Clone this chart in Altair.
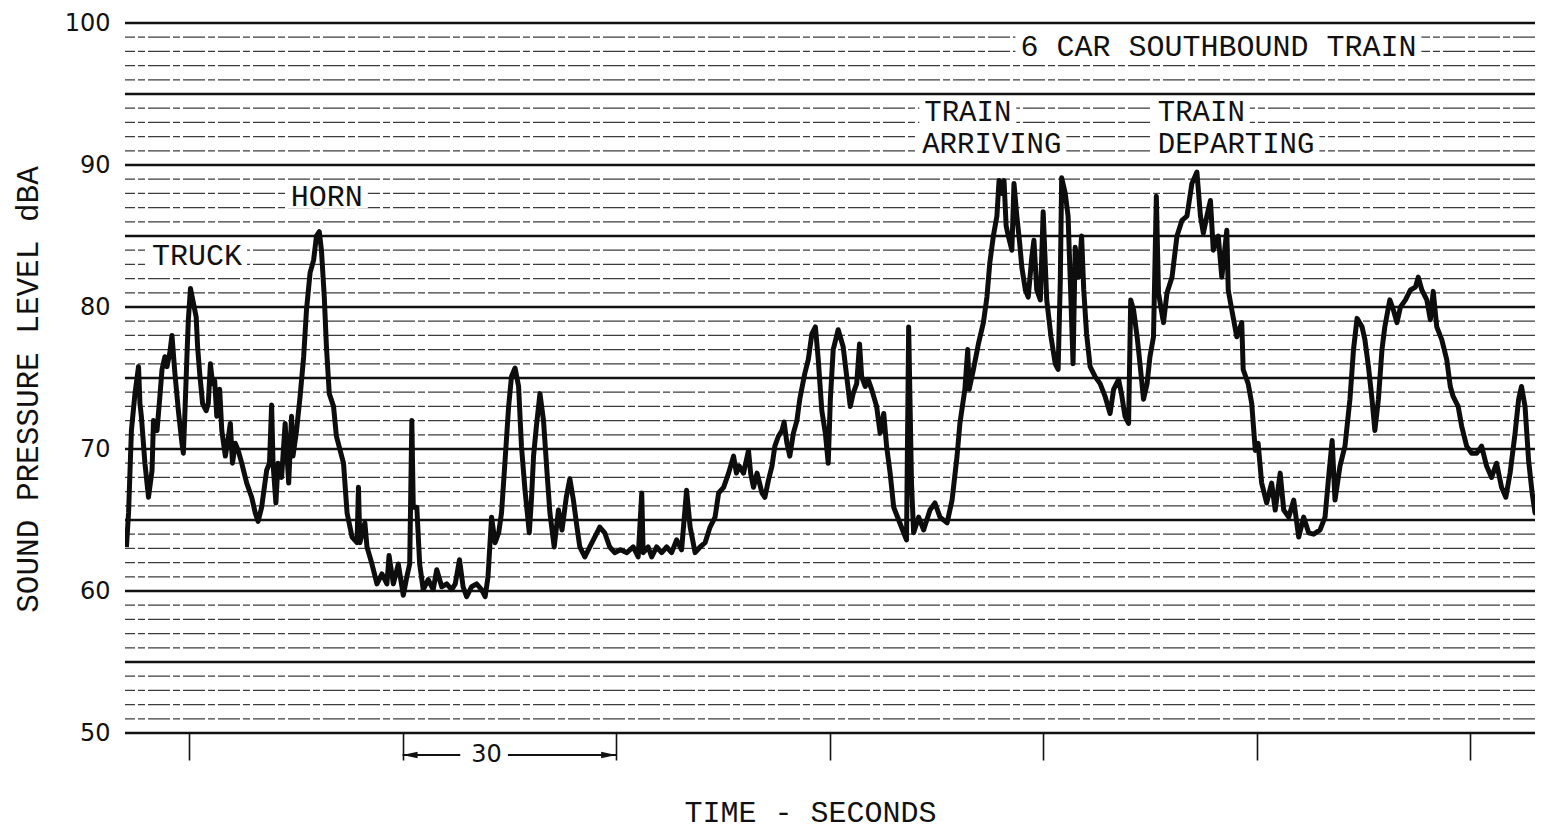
import altair as alt
import pandas as pd

# ---- trace: (time in seconds, sound pressure level in dBA) ----
seg_truck_horn = [
    (21.2, 63.1), (21.5, 65.5), (21.9, 71.3), (22.4, 73.9), (22.9, 75.8), (23.1, 73.2), (23.3, 72.3),
    (23.8, 69.0), (24.3, 66.6), (24.8, 68.5), (25.0, 72.0), (25.5, 71.3), (25.9, 73.7), (26.2, 75.6),
    (26.6, 76.5), (26.9, 75.8), (27.3, 76.8), (27.6, 78.0), (28.0, 75.4), (28.5, 72.7), (29.0, 70.4),
    (29.2, 69.7), (29.4, 72.3), (29.7, 76.5), (29.9, 79.1), (30.2, 81.3), (30.6, 80.3), (31.0, 79.3),
    (31.2, 77.2), (31.5, 75.3), (31.9, 73.2), (32.4, 72.7), (32.7, 73.2), (33.0, 76.0), (33.3, 74.6),
    (33.6, 74.8), (33.9, 72.3), (34.3, 74.2), (34.6, 71.3), (35.1, 69.5), (35.4, 70.4), (35.8, 71.8),
    (36.1, 69.0), (36.5, 70.4), (36.9, 69.9), (37.4, 69.0), (38.1, 67.6), (38.8, 66.6), (39.3, 65.5),
    (39.7, 64.9), (40.2, 65.9), (40.9, 68.5), (41.3, 69.0), (41.6, 73.1), (41.8, 69.0), (42.2, 66.2),
    (42.5, 69.0), (43.0, 68.0), (43.5, 71.8), (44.0, 67.6), (44.4, 72.3), (44.6, 69.5), (45.1, 71.3),
    (45.6, 73.7), (46.1, 76.5), (46.5, 79.8), (47.0, 82.4), (47.5, 83.3), (47.9, 85.0), (48.3, 85.3),
    (48.6, 84.0), (49.0, 80.7), (49.3, 77.2), (49.7, 73.9), (50.3, 73.0), (50.7, 70.9), (51.7, 69.0),
    (52.2, 65.5), (52.9, 63.8),
]
seg_quiet = [
    (53.6, 63.4), (53.8, 67.3), (54.0, 63.4), (54.7, 64.8), (55.0, 63.1), (55.7, 61.9), (56.4, 60.5),
    (57.1, 61.2), (57.8, 60.5), (58.1, 62.5), (58.7, 60.5), (59.4, 61.9), (60.1, 59.7), (60.6, 61.0),
    (61.0, 61.9), (61.3, 72.0), (61.5, 65.9), (62.0, 65.9), (62.4, 61.9), (62.9, 60.1), (63.6, 60.8),
    (64.3, 60.1), (64.8, 61.5), (65.5, 60.3), (66.2, 60.5), (66.9, 60.1), (67.4, 60.5), (68.0, 62.2),
    (68.5, 60.3), (69.0, 59.6), (69.7, 60.3), (70.4, 60.5), (71.1, 60.1), (71.6, 59.6), (72.0, 61.0),
    (72.5, 65.2), (73.0, 63.4), (73.5, 64.1), (73.9, 65.5), (74.4, 69.2), (74.9, 73.0), (75.3, 75.1),
    (75.8, 75.7), (76.3, 74.4), (76.7, 70.2), (77.2, 67.1), (77.8, 64.1), (78.1, 66.4), (78.4, 69.5),
    (78.8, 71.6), (79.3, 73.9), (79.8, 72.0), (80.3, 68.3), (80.7, 65.5), (81.3, 63.1), (81.9, 65.7),
    (82.4, 64.3), (83.0, 66.6), (83.5, 67.9), (84.0, 66.4), (84.5, 64.5), (84.9, 63.1), (85.6, 62.4),
    (86.3, 63.1), (87.0, 63.8), (87.7, 64.5), (88.4, 64.1), (89.1, 63.1), (89.8, 62.7), (90.6, 62.9),
    (91.5, 62.7), (92.4, 63.1), (93.1, 62.4), (93.6, 66.9), (93.8, 62.7), (94.5, 63.1), (95.0, 62.4),
    (95.7, 63.1), (96.4, 62.7), (97.1, 63.1), (97.8, 62.7), (98.5, 63.6), (99.2, 62.9), (99.9, 67.1),
    (100.4, 64.5), (101.1, 62.7), (101.8, 63.1), (102.5, 63.4),
]
seg_middle = [
    (103.2, 64.5), (103.9, 65.2), (104.4, 66.9), (105.1, 67.3), (105.8, 68.3), (106.5, 69.5),
    (106.9, 68.3), (107.3, 68.8), (107.9, 68.3), (108.6, 69.9), (108.9, 68.3), (109.3, 67.3),
    (109.8, 68.3), (110.5, 66.9), (110.9, 66.6), (111.4, 67.8), (111.9, 68.8), (112.3, 70.2),
    (112.8, 70.9), (113.3, 71.3), (113.6, 71.9), (114.0, 70.4), (114.4, 69.5), (114.9, 71.1),
    (115.4, 72.0), (115.8, 73.5), (116.5, 75.3), (117.0, 76.3), (117.5, 78.1), (118.0, 78.6),
    (118.4, 76.3), (118.9, 72.7), (119.4, 71.1), (119.8, 69.0), (120.1, 73.5), (120.5, 77.0),
    (121.2, 78.4), (121.9, 77.2), (122.4, 75.1), (122.9, 73.0), (123.3, 73.9), (123.8, 74.6),
    (124.2, 77.4), (124.5, 75.1), (125.0, 74.4), (125.4, 74.9), (125.9, 74.2), (126.6, 73.0),
    (127.1, 71.1), (127.6, 72.5), (128.0, 70.2), (128.5, 68.3), (129.0, 65.9), (129.7, 65.0),
    (130.4, 64.1), (130.8, 63.6), (131.1, 78.6), (131.5, 67.6), (131.8, 64.1), (132.5, 65.2),
    (133.2, 64.3), (134.1, 65.7), (134.8, 66.2), (135.5, 65.2), (136.5, 64.8), (137.2, 66.4),
]
seg_train = [
    (137.9, 69.5), (138.3, 71.8), (139.0, 74.2), (139.4, 77.0), (139.6, 74.2), (140.2, 75.6),
    (140.9, 77.4), (141.6, 78.9), (142.1, 80.7), (142.5, 83.1), (143.0, 85.0), (143.5, 86.4),
    (143.8, 88.9), (144.2, 88.0), (144.5, 88.9), (144.8, 85.7), (145.1, 85.0), (145.6, 84.0),
    (145.9, 88.7), (146.3, 86.4), (146.7, 84.5), (147.0, 82.8), (147.5, 81.2), (147.9, 80.7),
    (148.4, 83.5), (148.7, 84.7), (149.1, 81.2), (149.6, 80.5), (150.0, 86.7), (150.5, 80.5),
    (151.1, 77.9), (151.7, 76.0), (152.1, 75.6), (152.4, 81.7), (152.6, 89.1), (153.1, 88.0),
    (153.5, 86.4), (153.9, 80.5), (154.2, 76.0), (154.5, 84.2), (155.0, 82.1), (155.4, 85.0),
    (155.7, 81.2), (156.1, 78.1), (156.6, 75.8), (157.3, 75.1), (158.0, 74.6), (158.7, 73.7),
    (159.4, 72.5), (159.9, 74.2), (160.6, 74.9), (161.0, 73.9), (161.5, 72.3), (162.0, 71.8),
    (162.3, 80.5), (162.7, 79.8), (163.2, 77.9), (163.5, 76.5), (164.1, 73.5), (164.6, 74.6),
    (165.0, 76.5), (165.5, 77.9), (165.9, 87.8), (166.2, 81.0), (166.9, 78.9), (167.4, 81.0),
    (168.1, 82.1), (168.8, 85.0), (169.5, 86.1), (170.2, 86.4), (170.9, 88.7), (171.6, 89.5),
    (172.1, 86.4), (172.5, 85.2), (173.0, 86.4), (173.5, 87.5), (173.9, 84.0), (174.6, 85.0),
    (175.1, 82.1), (175.8, 85.4), (176.0, 81.2), (176.5, 79.8), (177.2, 77.9), (177.9, 78.9),
    (178.1, 75.6), (178.8, 74.6), (179.3, 73.2), (179.8, 69.9), (180.2, 70.4), (180.7, 67.6),
    (181.4, 66.2), (182.1, 67.6), (182.6, 65.7), (183.3, 68.3), (183.8, 65.7), (184.5, 65.2),
    (185.2, 66.4), (185.9, 63.8), (186.6, 65.2), (187.3, 64.1), (188.0, 64.0), (188.9, 64.3),
    (189.6, 65.2), (190.1, 68.0), (190.6, 70.6), (191.0, 66.4),
]
seg_end = [
    (191.7, 68.8), (192.4, 70.2), (193.1, 73.5), (193.6, 77.0), (194.1, 79.2), (194.8, 78.6),
    (195.2, 77.7), (195.7, 75.8), (196.2, 73.5), (196.6, 71.3), (197.1, 73.5), (197.6, 77.0),
    (198.0, 78.6), (198.7, 80.5), (199.2, 79.8), (199.7, 78.9), (200.2, 80.0), (200.9, 80.5),
    (201.6, 81.2), (202.3, 81.4), (202.7, 82.1), (203.2, 81.2), (203.9, 80.5), (204.4, 79.1),
    (204.8, 81.1), (205.3, 78.6), (206.0, 77.7), (206.7, 76.3), (207.2, 74.4), (207.6, 73.7),
    (208.3, 73.0), (208.8, 71.6), (209.5, 70.2), (210.2, 69.7), (210.9, 69.7), (211.6, 70.2),
    (212.3, 68.8), (213.0, 68.0), (213.7, 69.0), (214.4, 67.3), (215.0, 66.6), (215.6, 68.3),
    (216.3, 71.1), (216.8, 73.5), (217.2, 74.4), (217.7, 73.0), (218.2, 69.2), (218.7, 66.9),
    (219.1, 65.5), (219.8, 65.9), (220.2, 65.4),
]

# ---- axes / grid ----
time_domain = [21.0, 219.1]
level_domain = [50, 100]
level_labels = [50, 60, 70, 80, 90, 100]
time_ticks = [30, 60, 90, 120, 150, 180, 210]
major_levels = [50, 55, 60, 65, 70, 75, 80, 85, 90, 95, 100]
minor_levels = [51, 52, 53, 54, 56, 57, 58, 59, 61, 62, 63, 64, 66, 67, 68, 69, 71, 72, 73, 74,
                76, 77, 78, 79, 81, 82, 83, 84, 86, 87, 88, 89, 91, 92, 93, 94, 96, 97, 98, 99]

# ---- annotations ----
note_text = ["TRUCK", "HORN", "6 CAR SOUTHBOUND TRAIN", "TRAIN", "ARRIVING", "TRAIN", "DEPARTING"]
note_time = [24.8, 44.3, 146.8, 133.3, 133.0, 166.1, 166.1]
note_level = [83.6, 87.75, 98.3, 93.7, 91.45, 93.7, 91.45]
note_size = [30, 30, 30, 29, 29, 29, 29]

span_label = ["30"]
span_label_time = [71.8]
span_level = 48.45
span_seg_start = [60.0, 74.8]
span_seg_end = [68.1, 90.0]
span_arrow_time = [60.0, 90.0]
span_arrow_dir = ["left", "right"]

CHAR_EM_SECONDS = 0.0843   # typewriter advance (0.6 em) per font pixel, on the time scale
PAD_SECONDS = 0.7
HALF_LINE_DB = 0.8

trace = seg_truck_horn + seg_quiet + seg_middle + seg_train + seg_end
df = pd.DataFrame(trace, columns=["time", "dba"])
df["order"] = range(len(df))

yscale = alt.Scale(domain=level_domain, nice=False, zero=False)
xscale = alt.Scale(domain=time_domain, nice=False, zero=False)

X = alt.X("time:Q", scale=xscale,
          axis=alt.Axis(values=time_ticks, labels=False, domain=False, grid=False,
                        tickSize=27, tickWidth=1.6, tickColor="#111111",
                        title="TIME - SECONDS", titleFont="Liberation Mono", titleFontSize=30,
                        titleFontWeight="normal", titleColor="#111111",
                        titleX=685, titleY=88, titleBaseline="alphabetic"))
Y = alt.Y("dba:Q", scale=yscale,
          axis=alt.Axis(values=level_labels, ticks=False, domain=False, grid=False,
                        labelFont="DejaVu Sans", labelFontSize=24, labelColor="#111111",
                        labelPadding=15,
                        title="SOUND PRESSURE LEVEL dBA", titleFont="Liberation Mono",
                        titleFontSize=31, titleFontWeight="normal", titleColor="#111111",
                        titleX=-88, titleY=366, titleBaseline="alphabetic"))

minor = alt.Chart(pd.DataFrame({"dba": minor_levels})).mark_rule(
    color="#3c3c3c", strokeWidth=1.3, strokeDash=[22, 3, 7, 3]
).encode(y=alt.Y("dba:Q", scale=yscale))

major = alt.Chart(pd.DataFrame({"dba": major_levels})).mark_rule(
    color="#111111", strokeWidth=2.6
).encode(y=alt.Y("dba:Q", scale=yscale))

line = alt.Chart(df).mark_line(
    color="#0d0d0d", strokeWidth=5, strokeJoin="round", clip=True
).encode(x=X, y=Y, order="order:Q")

notes = pd.DataFrame({"text": note_text, "time": note_time, "dba": note_level, "size": note_size})
notes["nchar"] = notes["text"].str.len()

# white paper behind each typed label (breaks the grid lines around it)
paper = alt.Chart(notes).transform_calculate(
    t0=f"datum.time - {PAD_SECONDS}",
    t1=f"datum.time + datum.nchar * datum.size * {CHAR_EM_SECONDS} + {PAD_SECONDS}",
    d0=f"datum.dba - {HALF_LINE_DB}",
    d1=f"datum.dba + {HALF_LINE_DB}",
).mark_rect(color="white").encode(
    x=alt.X("t0:Q", scale=xscale), x2="t1:Q",
    y=alt.Y("d0:Q", scale=yscale), y2="d1:Q")

note_marks = alt.Chart(notes).mark_text(
    align="left", baseline="middle", font="Liberation Mono", color="#111111"
).encode(x="time:Q", y="dba:Q", text="text:N",
         size=alt.Size("size:Q", scale=None, legend=None))

segs = pd.DataFrame({"t0": span_seg_start, "t1": span_seg_end, "dba": [span_level] * 2})
span_rules = alt.Chart(segs).mark_rule(color="#111111", strokeWidth=2).encode(
    x="t0:Q", x2="t1:Q", y="dba:Q")

arrows = pd.DataFrame({"time": span_arrow_time, "dir": span_arrow_dir, "dba": [span_level] * 2})
left_arrow = alt.Chart(arrows[arrows["dir"] == "left"]).mark_point(
    shape="M-1,0L1,-0.42L1,0.42Z", size=225, filled=True, color="#111111", opacity=1, xOffset=7.5
).encode(x="time:Q", y="dba:Q")
right_arrow = alt.Chart(arrows[arrows["dir"] == "right"]).mark_point(
    shape="M1,0L-1,-0.42L-1,0.42Z", size=225, filled=True, color="#111111", opacity=1, xOffset=-7.5
).encode(x="time:Q", y="dba:Q")

span_text = alt.Chart(pd.DataFrame({"text": span_label, "time": span_label_time,
                                    "dba": [span_level]})).mark_text(
    align="center", baseline="middle", font="DejaVu Sans", fontSize=24, color="#111111"
).encode(x="time:Q", y="dba:Q", text="text:N")

chart = alt.layer(
    minor, major, line, paper, note_marks, span_rules, left_arrow, right_arrow, span_text
).properties(
    width=1410, height=710,
    padding={"left": 117, "top": 15, "right": 0, "bottom": 97},
    autosize=alt.AutoSizeParams(type="none"),
    background="white",
).configure_view(strokeWidth=0)

chart.save("out.html", embed_options={"renderer": "svg", "actions": False})
